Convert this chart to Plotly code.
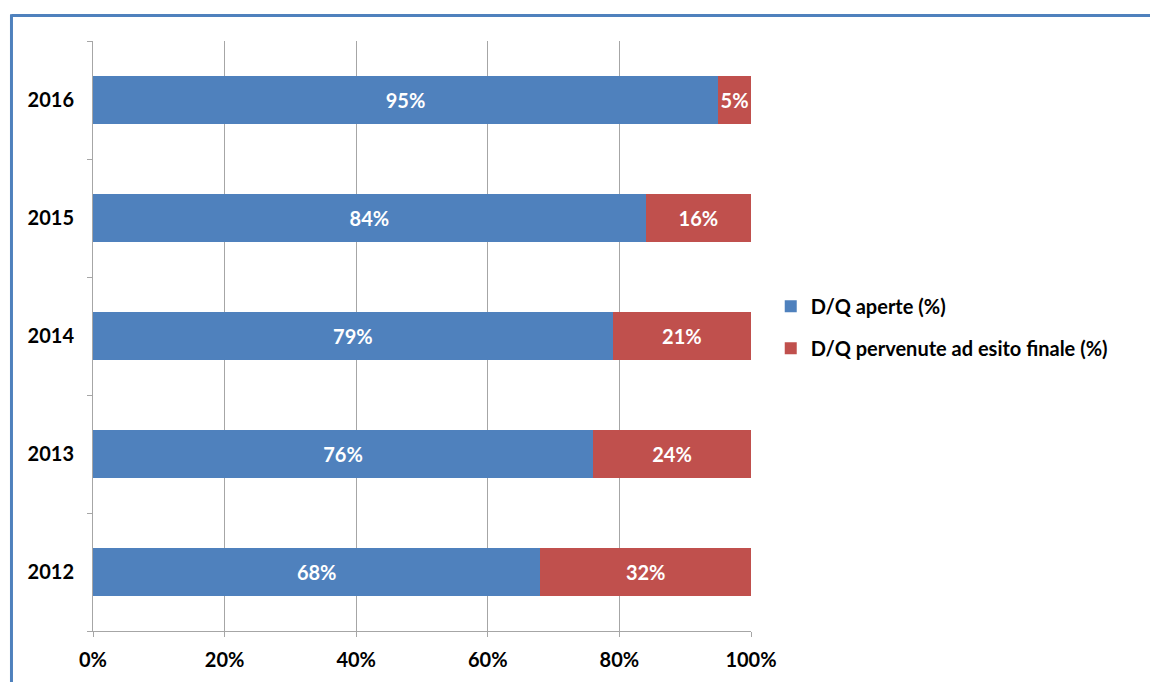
import plotly.graph_objects as go

years = ["2012", "2013", "2014", "2015", "2016"]
aperte = [68, 76, 79, 84, 95]
esito = [32, 24, 21, 16, 5]
series_names = ["D/Q aperte (%)", "D/Q pervenute ad esito finale (%)"]
x_ticks = [0, 20, 40, 60, 80, 100]
x_tick_labels = ["0%", "20%", "40%", "60%", "80%", "100%"]

FONT = "Lato"
FS = 20
fig = go.Figure()
fig.add_trace(go.Bar(
    y=years, x=aperte, orientation="h", name=series_names[0],
    legendgroup="a",
    marker=dict(color="#4F81BD", line=dict(width=0)),
    text=[f"{v}%" for v in aperte], textposition="inside",
    insidetextanchor="middle", textangle=0, constraintext="none",
    textfont=dict(color="white", size=FS, family=FONT, weight="bold"),
    width=0.4,
))
fig.add_trace(go.Bar(
    y=years, x=esito, orientation="h", name=series_names[1],
    legendgroup="b",
    marker=dict(color="#C0504D", line=dict(width=0)),
    text=[f"{v}%" for v in esito], textposition="inside",
    insidetextanchor="middle", textangle=0, constraintext="none",
    textfont=dict(color="white", size=FS, family=FONT, weight="bold"),
    width=0.4,
))

fig.update_layout(
    barmode="stack",
    width=1150, height=682,
    margin=dict(l=93, r=399, t=41, b=51),
    paper_bgcolor="white", plot_bgcolor="white",
    font=dict(family=FONT, color="black"),
    uniformtext=dict(mode=False),
    legend=dict(
        x=1.03, y=0.515, xanchor="left", yanchor="middle",
        traceorder="grouped",
        font=dict(size=FS, family=FONT, weight="bold", color="black"),
        itemwidth=30, tracegroupgap=13,
    ),
    xaxis=dict(
        range=[0, 100], tickvals=x_ticks, ticktext=x_tick_labels,
        showgrid=True, gridcolor="#A6A6A6", gridwidth=1,
        showline=True, linecolor="#A6A6A6", linewidth=1,
        ticks="outside", ticklen=5, tickcolor="#A6A6A6",
        tickfont=dict(size=FS, family=FONT, weight="bold", color="black"),
        ticklabelstandoff=6,
        zeroline=False,
    ),
    yaxis=dict(
        type="category", categoryorder="array", categoryarray=years,
        range=[-0.5, 4.5],
        showline=True, linecolor="#A6A6A6", linewidth=1,
        ticks="outside", ticklen=5, tickcolor="#A6A6A6",
        tickson="boundaries",
        tickfont=dict(size=FS, family=FONT, weight="bold", color="black"),
        ticklabelstandoff=14,
        showgrid=False,
    ),
    shapes=[
        dict(type="line", xref="paper", yref="paper",
             x0=-0.1239, x1=1.62, y0=1.0431, y1=1.0431,
             line=dict(color="#4F81BD", width=3)),
        dict(type="line", xref="paper", yref="paper",
             x0=-0.1239, x1=-0.1239, y0=1.0455, y1=-0.1,
             line=dict(color="#4F81BD", width=3)),
    ],
)

fig.write_html("out.html", post_script="document.body.style.margin='0px';",
               config={"displayModeBar": False})
